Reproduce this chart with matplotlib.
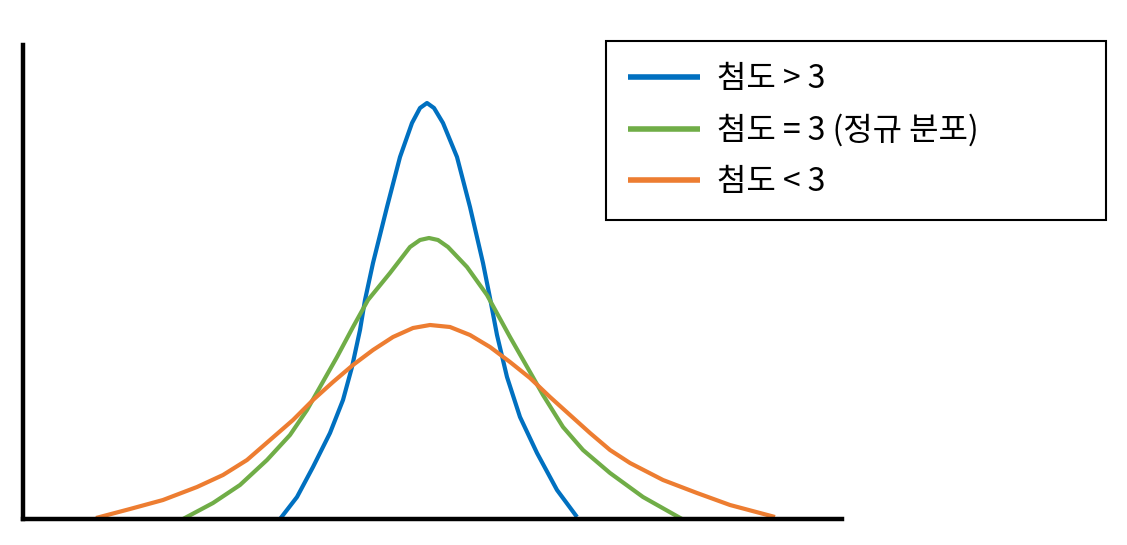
import matplotlib
matplotlib.use('Agg')
import matplotlib.pyplot as plt

plt.rcParams['font.family'] = ['Noto Sans CJK KR', 'DejaVu Sans']

COLORS = {
    'lepto': '#0070C0',
    'normal': '#70AD47',
    'platy': '#ED7D31',
}

LABELS = ['첨도 > 3', '첨도 = 3 (정규 분포)', '첨도 < 3']

# values (x along axis, height above axis)
lepto_x = [257, 274, 290, 307, 320, 329, 337, 342, 350, 364, 377, 389, 397, 404,
           411, 420, 434, 447, 460, 467, 474, 484, 497, 514, 534, 554]
lepto_y = [0, 22, 52, 86, 119, 152, 189, 219, 256, 312, 362, 396, 411, 416,
           411, 396, 362, 312, 256, 221, 184, 142, 102, 66, 29, 2]

normal_x = [160, 190, 217, 244, 267, 284, 297, 314, 330, 345, 367, 387, 397, 406,
            415, 425, 444, 464, 487, 507, 520, 540, 560, 587, 620, 659]
normal_y = [0, 16, 34, 59, 84, 109, 132, 162, 192, 219, 246, 272, 279, 281,
            279, 272, 252, 224, 182, 147, 124, 92, 69, 46, 22, 0]

platy_x = [73, 107, 140, 174, 200, 224, 247, 270, 290, 310, 330, 350, 370, 390,
           407, 427, 447, 467, 487, 507, 527, 547, 567, 587, 607, 640, 674, 707, 752]
platy_y = [1, 10, 19, 32, 44, 59, 79, 99, 119, 137, 154, 169, 182, 191,
           194, 192, 184, 172, 157, 141, 122, 104, 86, 69, 56, 39, 26, 14, 2]

W, H = 1127, 545
fig = plt.figure(figsize=(W / 100, H / 100), dpi=100)
ax = fig.add_axes([23 / W, 26 / H, 819 / W, 474 / H])

ax.plot(lepto_x, lepto_y, color=COLORS['lepto'], lw=3, label=LABELS[0], solid_capstyle='butt')
ax.plot(normal_x, normal_y, color=COLORS['normal'], lw=3, label=LABELS[1], solid_capstyle='butt')
ax.plot(platy_x, platy_y, color=COLORS['platy'], lw=3, label=LABELS[2], solid_capstyle='butt')

ax.set_xlim(0, 819)
ax.set_ylim(0, 474)
for side in ['top', 'right']:
    ax.spines[side].set_visible(False)
for side in ['left', 'bottom']:
    ax.spines[side].set_linewidth(3.2)
    ax.spines[side].set_color('black')
ax.set_xticks([])
ax.set_yticks([])

leg = fig.legend(
    loc='upper left',
    bbox_to_anchor=(606 / W, 1 - 218.5 / H, 500 / W, 177 / H),
    mode='expand',
    fontsize=23,
    handlelength=2.26,
    handletextpad=0.53,
    borderpad=0.68,
    labelspacing=0.6,
    borderaxespad=0,
    fancybox=False,
    framealpha=1,
    edgecolor='black',
)
leg.get_frame().set_linewidth(1.5)
for line in leg.get_lines():
    line.set_linewidth(4)

fig.savefig('out.png', dpi=100)
